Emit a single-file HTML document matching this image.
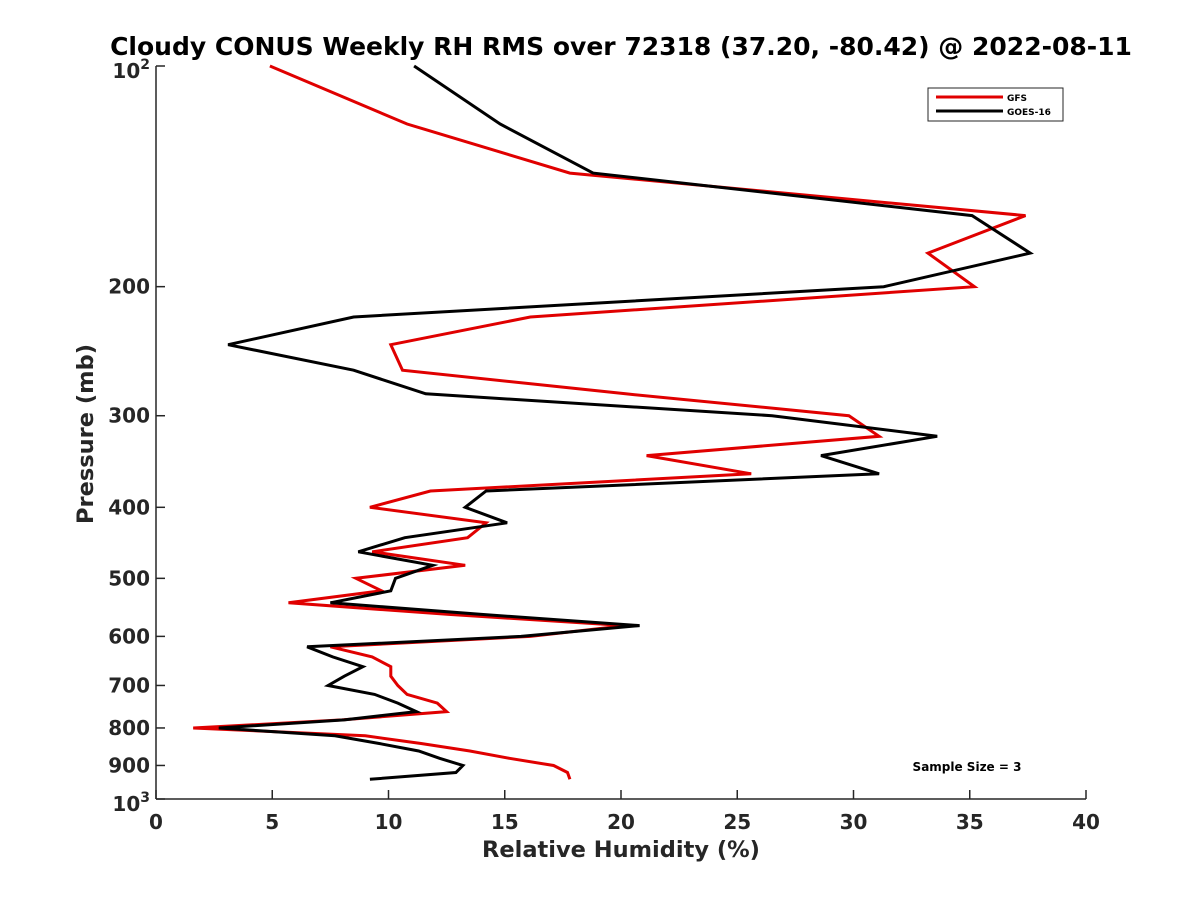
<!DOCTYPE html>
<html><head><meta charset="utf-8"><style>
body{margin:0;background:#fff}
svg text{font-family:"DejaVu Sans","Liberation Sans",sans-serif;font-weight:bold;fill:#262626}
</style></head><body>
<svg id="chart" width="1200" height="900" xmlns="http://www.w3.org/2000/svg">
<rect width="1200" height="900" fill="#fff"/>
<text x="621" y="55" text-anchor="middle" font-size="25" style="fill:#000">Cloudy CONUS Weekly RH RMS over 72318 (37.20, -80.42) @ 2022-08-11</text>
<g id="axes"></g>
<g id="series"></g>
<text x="621" y="857" text-anchor="middle" font-size="22.5">Relative Humidity (%)</text>
<text transform="translate(93,434) rotate(-90)" text-anchor="middle" font-size="22.5">Pressure (mb)</text>
<g>
<rect x="928" y="88" width="135" height="33" fill="#fff" stroke="#262626" stroke-width="1"/>
<line x1="936" y1="97" x2="1003" y2="97" stroke="#e00000" stroke-width="3"/>
<text x="1007" y="101" font-size="9" style="fill:#000">GFS</text>
<line x1="936" y1="111" x2="1003" y2="111" stroke="#000" stroke-width="3"/>
<text x="1007" y="115" font-size="9" style="fill:#000">GOES-16</text>
</g>
<text x="967" y="771" text-anchor="middle" font-size="12" style="fill:#000">Sample Size = 3</text>
</svg>
<script>
const pressures=[100,120,140,160,180,200,220,240,260,280,300,320,340,360,380,400,420,440,460,480,500,520,540,560,580,600,620,640,660,680,700,720,740,760,780,800,820,840,860,880,900,920,940];
const gfsRH=[4.9,10.8,17.8,37.4,33.2,35.2,16.1,10.1,10.6,20.2,29.8,31.1,21.1,25.6,11.8,9.2,14.2,13.4,9.3,13.3,8.6,9.7,5.7,12.6,20.2,16.1,7.5,9.3,10.1,10.1,10.4,10.8,12.1,12.5,8.0,1.6,9.0,11.4,13.5,15.2,17.1,17.7,17.8];
const goesRH=[11.1,14.8,18.8,35.1,37.6,31.3,8.5,3.1,8.5,11.6,26.5,33.6,28.6,31.1,14.2,13.3,15.1,10.7,8.7,11.9,10.3,10.1,7.5,14.0,20.8,15.7,6.5,7.6,8.9,8.1,7.4,9.4,10.4,11.2,8.1,2.7,7.7,9.6,11.3,12.2,13.2,12.9,9.2];
const xTicks=[0,5,10,15,20,25,30,35,40];
const yTicks=[100,200,300,400,500,600,700,800,900,1000];
const yTickLabels=["10^2","200","300","400","500","600","700","800","900","10^3"];
const NS="http://www.w3.org/2000/svg";
const X0=156,X1=1086,Y0=66,Y1=799;
function xs(v){return X0+(v-0)/(40-0)*(X1-X0);}
function ys(p){return Y0+Math.log10(p/100)*(Y1-Y0);}
function mk(tag,attrs,parent){const e=document.createElementNS(NS,tag);for(const k in attrs)e.setAttribute(k,attrs[k]);parent.appendChild(e);return e;}
const ax=document.getElementById('axes');
let l=mk('line',{x1:X0,y1:Y0,x2:X0,y2:Y1,stroke:'#262626','stroke-width':1.5},ax);


l=mk('line',{x1:X0,y1:Y1,x2:X1,y2:Y1,stroke:'#262626','stroke-width':1.5},ax);


xTicks.forEach(v=>{
  const t=mk('line',{x1:xs(v),y1:Y1,x2:xs(v),y2:Y1-9,stroke:'#262626','stroke-width':1.5},ax);
  
  
  const tx=mk('text',{x:xs(v),y:Y1+30,'text-anchor':'middle','font-size':20},ax);
  tx.textContent=String(v);
  
  
});
yTicks.forEach((p,i)=>{
  const t=mk('line',{x1:X0,y1:ys(p),x2:X0+9,y2:ys(p),stroke:'#262626','stroke-width':1.5},ax);
  
  
  const lab=yTickLabels[i];
  const tx=mk('text',{x:X0-6,y:ys(p)+7,'text-anchor':'end','font-size':20},ax);
  
  
  if(lab.indexOf('^')>=0){
    tx.setAttribute('y',ys(p)+12);
    const parts=lab.split('^');
    const a=mk('tspan',{},tx);a.textContent=parts[0];
    const b=mk('tspan',{dy:-9,'font-size':14},tx);b.textContent=parts[1];
  } else { tx.textContent=lab; }
});
const sg=document.getElementById('series');
function draw(vals,color,name){
  const pts=vals.map((v,i)=>xs(v).toFixed(1)+','+ys(pressures[i]).toFixed(1)).join(' ');
  const pl=mk('polyline',{points:pts,fill:'none',stroke:color,'stroke-width':3,'stroke-linejoin':'miter'},sg);
  
  
}
draw(gfsRH,'#e00000','gfs-line');
draw(goesRH,'#000','goes16-line');
</script>
</body></html>
